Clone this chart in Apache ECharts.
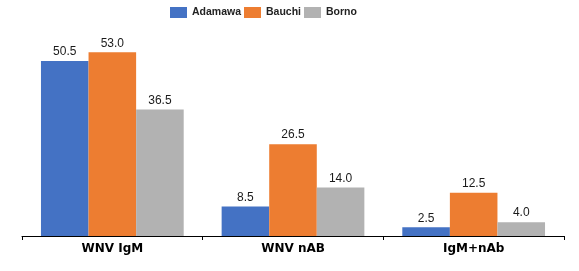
<!DOCTYPE html>
<html><head><meta charset="utf-8">
<script src="https://cdn.jsdelivr.net/npm/echarts@6/dist/echarts.min.js"></script>
<style>html,body{margin:0;padding:0;background:#fff}#c{width:579px;height:271px}</style>
</head><body><div id="c"></div>
<script>
const categories = ['WNV IgM', 'WNV nAB', 'IgM+nAb'];
const seriesNames = ['Adamawa', 'Bauchi', 'Borno'];
const adamawa = [50.5, 8.5, 2.5];
const bauchi = [53.0, 26.5, 12.5];
const borno = [36.5, 14.0, 4.0];
const colors = ['#4472C4', '#ED7D31', '#B2B2B2'];

const chart = echarts.init(document.getElementById('c'), null, {renderer: 'canvas'});
const mk = (name, data, color) => ({
  name, type: 'bar', data, itemStyle: {color},
  barGap: '0%', barCategoryGap: '21%',
  label: {show: true, position: 'top', distance: 3, formatter: p => p.value.toFixed(1),
    color: '#1a1a1a', fontSize: 12, fontFamily: 'Liberation Sans, Arial'}
});
chart.setOption({
  animation: false,
  legend: {top: 2, left: 165, itemWidth: 17, itemHeight: 11, itemGap: 3,
    textStyle: {fontFamily: 'Liberation Sans, Arial', fontWeight: 'bold', fontSize: 10.5, color: '#222'},
    icon: 'rect', data: seriesNames},
  grid: {left: 22, right: 15, top: 28, bottom: 35},
  xAxis: {type: 'category', data: categories,
    axisLine: {lineStyle: {color: '#000', width: 1}},
    axisTick: {show: true, length: 4, lineStyle: {color: '#000'}},
    axisLabel: {fontFamily: 'DejaVu Sans', fontWeight: 'bold', fontSize: 12, color: '#000', margin: 7}},
  yAxis: {type: 'value', min: 0, max: 60, show: false, splitLine: {show: false}},
  series: [mk(seriesNames[0], adamawa, colors[0]), mk(seriesNames[1], bauchi, colors[1]), mk(seriesNames[2], borno, colors[2])]
});
</script></body></html>
